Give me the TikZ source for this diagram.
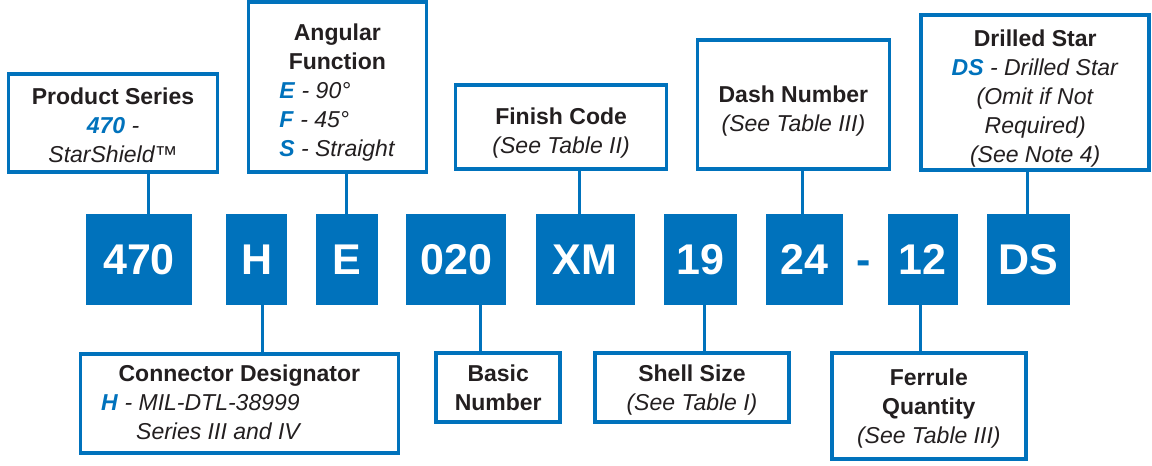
\documentclass[tikz,border=0pt]{standalone}
\usepackage{fontspec}
\setmainfont{Liberation Sans}
\usepackage{tikz}
\usetikzlibrary{calc, positioning}
\definecolor{gblue}{HTML}{0072BC}
\definecolor{gtext}{HTML}{231F20}
\newcommand{\codekey}[1]{\textcolor{gblue}{\textbf{\textit{#1}}}}
\newcommand{\topstrut}[1]{\rule{0pt}{#1}}

\begin{document}
\begin{tikzpicture}[x=1pt, y=-1pt, node distance=29pt,
  code/.style={fill=gblue, text=white, minimum height=91pt, inner sep=0pt, font=\fontsize{43}{43}\selectfont\bfseries},
  info/.style={draw=gblue, line width=3.5pt, fill=white, text=gtext, align=center, inner sep=0pt, font=\fontsize{23}{29}\selectfont},
  link/.style={draw=gblue, line width=3pt}]
\useasboundingbox (0,0) rectangle (1152,466);

% part number row
\node[code, minimum width=106pt] (c470) at (139,259.5) {470};
\node[code, minimum width=61pt, right=34pt of c470] (cH) {H};
\node[code, minimum width=62pt, right=28pt of cH] (cE) {E};
\node[code, minimum width=100pt, right=28pt of cE] (c020) {020};
\node[code, minimum width=99pt, right=of c020] (cXM) {XM};
\node[code, minimum width=73pt, right=of cXM] (c19) {19};
\node[code, minimum width=77pt, right=of c19] (c24) {24};
\node[code, minimum width=70pt, right=44pt of c24] (c12) {12};
\node[code, minimum width=83pt, right=of c12] (cDS) {DS};
\node[text=gblue, inner sep=0pt, anchor=base, font=\fontsize{43}{43}\selectfont\bfseries] (dash) at ($(c24.base)!.5!(c12.base)$) {-};

% labels above
\node[info, minimum width=209pt, minimum height=98pt, above=40pt of c470, xshift=-26pt] (ps)
  {\topstrut{21pt}\textbf{Product Series}\\ \codekey{470} \textit{-}\\ \textit{StarShield™}};
\node[info, minimum width=178pt, minimum height=170pt, above=40pt of cE, xshift=-9.5pt] (af)
  {\topstrut{31pt}\textbf{Angular}\\ \textbf{Function}\\
   \begin{tabular}[t]{@{}l@{}}
   \codekey{E} \textit{- 90°}\\
   \codekey{F} \textit{- 45°}\\
   \codekey{S} \textit{- Straight}
   \end{tabular}};
\node[info, minimum width=211pt, minimum height=84pt, above=43pt of cXM, xshift=-24pt] (fc)
  {\topstrut{28pt}\textbf{Finish Code}\\ \textit{(See Table II)}};
\node[info, minimum width=192pt, minimum height=129pt, above=43pt of c24, xshift=-11.5pt] (dn)
  {\topstrut{29pt}\textbf{Dash Number}\\ \textit{(See Table III)}};
\node[info, minimum width=228pt, minimum height=155pt, above=42pt of cDS, xshift=6.5pt] (ds)
  {\topstrut{29pt}\textbf{Drilled Star}\\ \codekey{DS} \textit{- Drilled Star}\\ \textit{(Omit if Not}\\
   \textit{Required)}\\ \textit{(See Note 4)}};

% labels below
\node[info, minimum width=318pt, minimum height=99pt, below=47pt of cH, xshift=-17.5pt] (cd)
  {\topstrut{23pt}\textbf{Connector Designator}\\
   \begin{tabular}[t]{@{}l@{\hspace{76pt}}}
   \codekey{H} \textit{- MIL-DTL-38999}\\
   \hspace*{35pt}\textit{Series III and IV}
   \end{tabular}};
\node[info, minimum width=124pt, minimum height=69pt, below=46pt of c020, xshift=42pt] (bn)
  {\textbf{Basic}\\ \textbf{Number}};
\node[info, minimum width=194pt, minimum height=69pt, below=46pt of c19, xshift=-8.5pt] (ss)
  {\topstrut{21pt}\textbf{Shell Size}\\ \textit{(See Table I)}};
\node[info, minimum width=194pt, minimum height=106pt, below=46pt of c12, xshift=6pt] (fq)
  {\topstrut{21pt}\textbf{Ferrule}\\ \textbf{Quantity}\\ \textit{(See Table III)}};

\draw[link] ([xshift=9pt]c470.north) -- ([xshift=9pt]c470.north |- ps.south);
\draw[link] (cE.north) -- (cE.north |- af.south);
\draw[link] ([xshift=-5.5pt]cXM.north) -- ([xshift=-5.5pt]cXM.north |- fc.south);
\draw[link] ([xshift=-2.5pt]c24.north) -- ([xshift=-2.5pt]c24.north |- dn.south);
\draw[link] ([xshift=-1.5pt]cDS.north) -- ([xshift=-1.5pt]cDS.north |- ds.south);
\draw[link] ([xshift=5.5pt]cH.south) -- ([xshift=5.5pt]cH.south |- cd.north);
\draw[link] ([xshift=24pt]c020.south) -- ([xshift=24pt]c020.south |- bn.north);
\draw[link] ([xshift=3.5pt]c19.south) -- ([xshift=3.5pt]c19.south |- ss.north);
\draw[link] ([xshift=-2pt]c12.south) -- ([xshift=-2pt]c12.south |- fq.north);
\end{tikzpicture}
\end{document}
